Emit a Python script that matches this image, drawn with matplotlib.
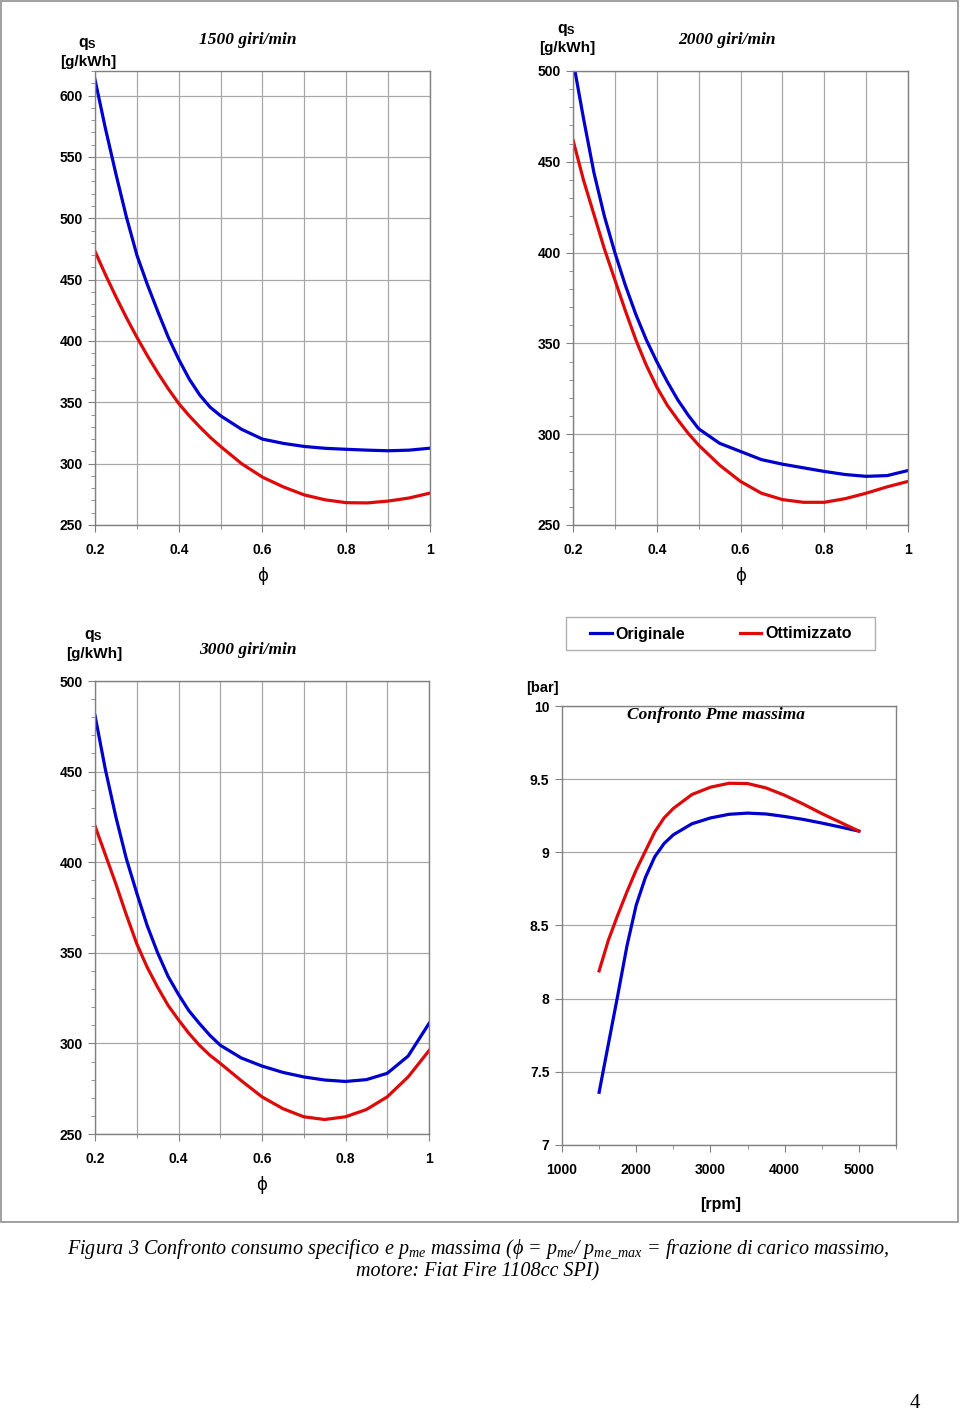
import matplotlib.pyplot as plt
from matplotlib.patches import Rectangle
from matplotlib.ticker import MultipleLocator

plt.rcParams['font.family'] = ['Liberation Sans', 'DejaVu Sans']
plt.rcParams['mathtext.fontset'] = 'custom'
plt.rcParams['mathtext.rm'] = 'Liberation Serif:italic'
plt.rcParams['mathtext.it'] = 'Liberation Serif:italic'

# frazione di carico (phi)
phi = [0.2, 0.225, 0.25, 0.275, 0.3, 0.325, 0.35, 0.375, 0.4, 0.425, 0.45, 0.475,
       0.5, 0.55, 0.6, 0.65, 0.7, 0.75, 0.8, 0.85, 0.9, 0.95, 1.0]

# consumo specifico q_s [g/kWh]
orig_1500 = [613, 573, 536, 501, 470, 446, 424, 403, 385, 369, 356, 346,
             339, 328, 320, 316.5, 314, 312.5, 311.7, 311, 310.5, 311, 312.6]
ott_1500 = [473, 454, 436, 419, 403, 388, 374, 361, 349, 339, 330, 321.5,
            314, 300, 289, 281, 274.5, 270.5, 268.2, 268, 269.5, 272, 276]
orig_2000 = [506, 474, 444, 420, 400, 382, 366, 352, 340, 329, 319, 310.5,
             303, 295, 290.5, 286, 283.5, 281.5, 279.5, 277.8, 276.8, 277.2, 280]
ott_2000 = [462, 440, 421, 402, 385, 368, 352, 338, 326, 316, 308, 300.5,
            294, 283, 274, 267.5, 264, 262.5, 262.5, 264.5, 267.5, 271, 274]
orig_3000 = [481, 451, 425, 402, 383, 365, 350, 337, 327, 318, 311, 304.5,
             299, 292, 287.5, 284, 281.5, 279.8, 279, 280, 283.5, 293, 311]
ott_3000 = [420, 404, 388, 371, 355, 342, 331, 321, 313, 305.5, 299, 293.5,
            289, 279.5, 270.5, 264, 259.5, 258, 259.5, 263.5, 270.5, 281.5, 296]

# pme massima [bar]
rpm = [1500, 1625, 1750, 1875, 2000, 2125, 2250, 2375, 2500, 2750,
       3000, 3250, 3500, 3750, 4000, 4250, 4500, 4750, 5000]
pme_orig = [7.36, 7.69, 8.02, 8.36, 8.64, 8.83, 8.97, 9.06, 9.12, 9.195,
            9.235, 9.26, 9.268, 9.262, 9.245, 9.225, 9.20, 9.173, 9.145]
pme_ott = [8.19, 8.40, 8.57, 8.73, 8.88, 9.01, 9.14, 9.235, 9.30, 9.395,
           9.445, 9.472, 9.47, 9.44, 9.39, 9.33, 9.265, 9.205, 9.145]

phi_ticks = [0.2, 0.4, 0.6, 0.8, 1.0]
phi_labels = ['0.2', '0.4', '0.6', '0.8', '1']
rpm_ticks = [1000, 2000, 3000, 4000, 5000]
pme_ticks = [7, 7.5, 8, 8.5, 9, 9.5, 10]
pme_labels = ['7', '7.5', '8', '8.5', '9', '9.5', '10']

BLUE = '#0000cc'
RED = '#dd0a0a'
GRID = '#a8a8a8'
SPINE = '#808080'
W, H = 960, 1413


def px(x, y):
    return x / W, 1 - y / H


def axes_px(left, top, right, bottom):
    return fig.add_axes([left / W, 1 - bottom / H, (right - left) / W, (bottom - top) / H])


def style(ax):
    for s in ax.spines.values():
        s.set_color(SPINE)
        s.set_linewidth(1.0)
    ax.tick_params(which='both', direction='out', color=SPINE, labelsize=10)
    ax.tick_params(which='major', length=5, pad=4)
    ax.tick_params(which='minor', length=3)
    for lab in ax.get_xticklabels() + ax.get_yticklabels():
        lab.set_fontweight('bold')


def q_panel(box, orig, ott, ymax, title, title_xy, ylab_xy):
    ax = axes_px(*box)
    ax.plot(phi, orig, color=BLUE, lw=2.3)
    ax.plot(phi, ott, color=RED, lw=2.3)
    ax.set_xlim(0.2, 1.0)
    ax.set_ylim(250, ymax)
    ax.set_xticks(phi_ticks)
    ax.set_xticklabels(phi_labels)
    ax.xaxis.set_minor_locator(MultipleLocator(0.1))
    ax.yaxis.set_major_locator(MultipleLocator(50))
    ax.yaxis.set_minor_locator(MultipleLocator(10))
    ax.grid(True, which='both', axis='x', color=GRID, lw=0.9)
    ax.grid(True, which='major', axis='y', color=GRID, lw=0.9)
    ax.set_axisbelow(True)
    style(ax)
    ax.tick_params(axis='x', which='major', pad=8)
    ax.set_xlabel('ϕ', family='DejaVu Sans', fontsize=12, labelpad=7)
    fig.text(*px(*title_xy), title, family='Liberation Serif', style='italic',
             weight='bold', fontsize=12.5, ha='center', va='center')
    qx, qy = ylab_xy
    fig.text(*px(qx, qy - 20), 'q', weight='bold', fontsize=11.5, ha='right', va='center')
    fig.text(*px(qx, qy - 17), 'S', weight='bold', fontsize=8, ha='left', va='center')
    fig.text(*px(qx, qy), '[g/kWh]', weight='bold', fontsize=11, ha='center', va='center')
    return ax


fig = plt.figure(figsize=(9.6, 14.13), dpi=100)

q_panel((95, 71, 430, 525), orig_1500, ott_1500, 620, '1500 giri/min', (248, 40), (88, 62))
q_panel((573, 71, 908, 525), orig_2000, ott_2000, 500, '2000 giri/min', (727, 40), (567, 48))
q_panel((95, 681, 429, 1134), orig_3000, ott_3000, 500, '3000 giri/min', (248, 650), (94, 654))

ax4 = axes_px(562, 706, 896, 1145)
l1, = ax4.plot(rpm, pme_orig, color=BLUE, lw=2.3, label='Originale')
l2, = ax4.plot(rpm, pme_ott, color=RED, lw=2.3, label='Ottimizzato')
ax4.set_xlim(1000, 5500)
ax4.set_ylim(7, 10)
ax4.set_xticks(rpm_ticks)
ax4.xaxis.set_minor_locator(MultipleLocator(500))
ax4.set_yticks(pme_ticks)
ax4.set_yticklabels(pme_labels)
ax4.grid(True, which='major', axis='y', color=GRID, lw=0.9)
ax4.set_axisbelow(True)
style(ax4)
ax4.tick_params(axis='x', which='major', pad=8)
ax4.text(0.46, 0.98, 'Confronto Pme massima', transform=ax4.transAxes,
         family='Liberation Serif', style='italic', weight='bold', fontsize=12.5,
         ha='center', va='center')
fig.text(*px(542, 688), '[bar]', weight='bold', fontsize=10.5, ha='center', va='center')
fig.text(*px(721, 1205), '[rpm]', weight='bold', fontsize=11.5, ha='center', va='center')

# legend box
fig.add_artist(Rectangle(px(566, 650), 309 / W, 33 / H, transform=fig.transFigure,
                         facecolor='white', edgecolor='#b0b0b0', lw=1.0))
fig.legend(handles=[l1, l2], loc='center', ncol=2, bbox_to_anchor=px(721, 634),
           prop={'weight': 'bold', 'size': 11.5}, frameon=False,
           handlelength=1.35, handletextpad=0.25, columnspacing=3.4, borderpad=0)

# outer frame of the chart object
fig.add_artist(Rectangle(px(1, 1222), 957 / W, 1221 / H, transform=fig.transFigure,
                         fill=False, edgecolor='#909090', lw=1.2))

cap1 = ('Figura 3 Confronto consumo specifico e $p_{me}$ massima (ϕ = $p_{me}$/ '
        '$p_{me\\_max}$ = frazione di carico massimo,')
fig.text(*px(478, 1249), cap1, family=['Liberation Serif', 'DejaVu Serif'], style='italic',
         fontsize=14.5, ha='center', va='center')
fig.text(*px(478, 1272), 'motore: Fiat Fire 1108cc SPI)', family='Liberation Serif',
         style='italic', fontsize=14.5, ha='center', va='center')
fig.text(*px(915, 1403), '4', family='Liberation Serif', fontsize=15, ha='center', va='center')

fig.savefig('out.png', dpi=100)
